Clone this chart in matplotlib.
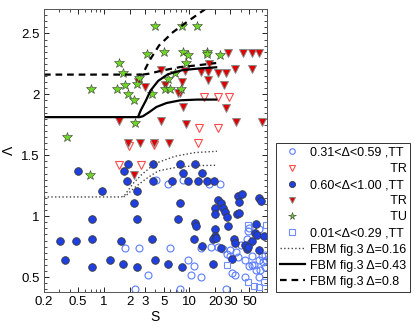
import numpy as np
import matplotlib
matplotlib.use("Agg")
import matplotlib.pyplot as plt
from matplotlib.ticker import FixedLocator, FixedFormatter, LogLocator, NullFormatter, MultipleLocator

plt.rcParams['font.family'] = ['Liberation Sans', 'DejaVu Sans']

# ---- data ----
# open blue circles, 0.31 < Delta < 0.59, TT
S_oc = [4.1, 5.6, 8.3, 17.1, 22.5, 1.75, 2.6, 5.9, 13.5, 17.9, 9.7, 11.3, 3.3, 10.3, 13.5,
        2.3, 7.8, 26.4, 27.5, 29.5, 35, 37.3, 44.6, 46.6, 51, 53.4, 56, 64, 70, 73, 76.6,
        31.1, 34, 44.6, 53.4, 50, 60, 67, 64, 76.6, 79, 21.7, 24.5, 50, 48, 64, 40, 30]
L_oc = [1.30, 1.268, 1.30, 1.268, 1.268, 0.743, 0.743, 0.743, 0.743, 0.749, 0.639, 0.590, 0.516, 0.516, 0.497,
        0.399, 0.399, 0.399, 0.689, 0.67, 0.708, 0.667, 0.639, 0.817, 0.776, 0.672, 0.598, 0.639, 0.672, 0.626, 0.68,
        0.536, 0.516, 0.503, 0.598, 0.59, 0.56, 0.557, 0.503, 0.585, 0.64, 0.749, 0.73, 0.907, 0.88, 0.899, 0.76, 0.72]

# open red triangles, 0.31 < Delta < 0.59, TR
S_ot = [14.8, 21.4, 29, 13.0, 21.7, 12.4, 1.95, 3.9, 1.49, 2.7]
L_ot = [1.981, 1.981, 1.981, 1.722, 1.722, 1.604, 1.577, 1.585, 1.418, 1.418]

# filled blue circles, 0.60 < Delta < 1.00, TT
S_fc = [1.91, 3.75, 7.8, 11.6, 0.50, 1.72, 8.3, 13.9, 1.86, 3.75, 6.3, 9.5, 12.7, 16.2, 19.4,
        0.95, 2.43, 2.26, 7.8, 0.72, 2.43, 7.3, 11.6, 11.8, 0.31, 0.47, 0.73, 1.57, 3.69, 11.2,
        0.355, 0.72, 1.18, 1.66, 2.43, 3.94, 5.6, 8.1, 18.6, 14.1,
        21.7, 23.5, 24.4, 26, 27.2, 19.9, 19.6, 36.6, 40.8, 38.3, 35.7, 38.3, 64, 69,
        28, 19.9, 19.6, 18.9, 20.2, 23.5, 32.8, 34, 31.1, 44.6, 47.5, 60, 58.4, 62, 75,
        53.4, 48.8, 64]
L_fc = [1.432, 1.432, 1.432, 1.432, 1.369, 1.369, 1.355, 1.355, 1.287, 1.287, 1.287, 1.287, 1.287, 1.287, 1.287,
        1.208, 1.208, 1.112, 1.112, 0.973, 0.973, 0.973, 0.945, 0.918, 0.798, 0.798, 0.811, 0.798, 0.811, 0.811,
        0.639, 0.585, 0.639, 0.607, 0.585, 0.639, 0.607, 0.585, 0.607, 0.754,
        1.137, 1.109, 1.071, 1.036, 0.995, 1.071, 1.022, 1.164, 1.18, 1.117, 1.022, 1.027, 1.153, 1.126,
        0.918, 0.893, 0.836, 0.809, 0.82, 0.743, 0.809, 0.781, 0.645, 0.762, 0.727, 0.934, 0.863, 0.844, 0.836,
        0.798, 0.749, 0.721]

# filled red triangles, 0.60 < Delta < 1.00, TR
S_ft = [28.4, 42, 53.4, 65, 17.1, 4.7, 8.8, 13.5, 16.6, 21.7, 27, 34, 53.5, 3.0, 2.5,
        8.07, 16.6, 25, 5.2, 7.7, 7.3, 26.6, 8.4, 4.6, 1.52, 9.0, 35, 70,
        1.91, 2.67, 3.8, 5.7, 2.24]
L_ft = [2.342, 2.342, 2.342, 2.342, 2.246, 2.20, 2.192, 2.183, 2.18, 2.178, 2.178, 2.21, 2.21, 2.063, 2.098,
        2.10, 2.118, 2.074, 2.074, 2.014, 2.008, 1.891, 1.893, 1.782, 1.782, 1.754, 1.773, 1.773,
        1.604, 1.599, 1.599, 1.599, 1.336]

# stars, TU
S_st = [3.97, 8.07, 12.3, 3.2, 5.0, 8.4, 9.7, 16.2, 16.2, 22.5, 1.52, 9.2, 1.67, 6.74, 2.58,
        5.63, 0.71, 1.43, 1.75, 2.46, 1.91, 2.26, 5.14, 6.0, 7.9, 3.66, 2.29, 0.37, 0.69]
L_st = [2.56, 2.56, 2.56, 2.328, 2.347, 2.347, 2.323, 2.35, 2.33, 2.323, 2.254, 2.254, 2.178, 2.178, 2.131,
        2.123, 2.041, 2.041, 2.074, 2.082, 2.0, 1.954, 2.041, 2.041, 2.041, 2.0, 1.768, 1.651, 1.342]

# open squares, 0.01 < Delta < 0.29, TT
S_sq = [48, 79, 27.3, 48, 56, 65, 75]
L_sq = [0.93, 0.93, 0.598, 0.46, 0.43, 0.42, 0.46]

# FBM fig.3 curves (two branches each)
S_d16a = [0.2, 1.6, 1.75, 2.19, 2.79, 3.94, 6.78, 11.6, 20.9]
L_d16a = [1.158, 1.158, 1.172, 1.268, 1.344, 1.432, 1.492, 1.522, 1.533]
S_d16b = [1.7, 1.85, 2.39, 3.14, 4.32, 7.4, 12.7, 20.9]
L_d16b = [1.158, 1.175, 1.246, 1.309, 1.372, 1.404, 1.415, 1.418]

S_d43a = [0.2, 2.5, 2.7, 3.1, 3.5, 4.3, 5.6, 8.2, 12.8, 20.5]
L_d43a = [1.813, 1.813, 1.87, 1.95, 2.03, 2.11, 2.165, 2.198, 2.212, 2.222]
S_d43b = [2.6, 2.85, 3.4, 4.1, 5.4, 7.8, 12.3, 20.5]
L_d43b = [1.813, 1.82, 1.855, 1.896, 1.929, 1.951, 1.957, 1.957]

S_d80a = [0.2, 2.85, 3.1, 3.5, 4.4, 6.4, 9.6, 15.3]
L_d80a = [2.162, 2.162, 2.22, 2.29, 2.40, 2.51, 2.60, 2.70]
S_d80b = [2.85, 3.4, 4.9, 7.8, 12.3, 20.5]
L_d80b = [2.162, 2.17, 2.197, 2.224, 2.238, 2.257]

xticks = [0.2, 0.5, 1, 2, 3, 5, 10, 20, 30, 50]
xtick_labels = ['0.2', '0.5', '1', '2', '3', '5', '10', '20', '30', '50']
yticks = [0.5, 1, 1.5, 2, 2.5]
ytick_labels = ['0.5', '1', '1.5', '2', '2.5']

lab_oc = '0.31<\u0394<0.59 ,TT'
lab_ot = ' ' * 23 + 'TR'
lab_fc = '0.60<\u0394<1.00 ,TT'
lab_ft = ' ' * 23 + 'TR'
lab_st = ' ' * 23 + 'TU'
lab_sq = '0.01<\u0394<0.29 ,TT'
lab_16 = 'FBM fig.3 \u0394=0.16'
lab_43 = 'FBM fig.3 \u0394=0.43'
lab_80 = 'FBM fig.3 \u0394=0.8'

# ---- figure ----
fig = plt.figure(figsize=(4.15, 3.35), dpi=100)
ax = fig.add_axes([0.106, 0.128, 0.537, 0.845])

ms = 5
h_oc, = ax.plot(S_oc, L_oc, 'o', ms=ms, mfc='none', mec='#5a7cff', mew=0.8, label=lab_oc)
h_ot, = ax.plot(S_ot, L_ot, 'v', ms=ms + 0.5, mfc='none', mec='#ff4a4a', mew=0.8, label=lab_ot)
h_fc, = ax.plot(S_fc, L_fc, 'o', ms=ms + 0.5, mfc='#1f3fe0', mec='#3a3a3a', mew=0.6, label=lab_fc)
h_ft, = ax.plot(S_ft, L_ft, 'v', ms=ms + 0.5, mfc='#e00000', mec='#8a8a8a', mew=0.7, label=lab_ft)
h_st, = ax.plot(S_st, L_st, '*', ms=7, mfc='#6fd628', mec='#3a3a3a', mew=0.4, label=lab_st)
h_sq, = ax.plot(S_sq, L_sq, 's', ms=ms, mfc='none', mec='#6f8fff', mew=0.8, label=lab_sq)

h_16, = ax.plot(S_d16a, L_d16a, ':', color='#444444', lw=1.0, label=lab_16)
ax.plot(S_d16b, L_d16b, ':', color='#444444', lw=1.0)
h_43, = ax.plot(S_d43a, L_d43a, '-', color='black', lw=1.6, label=lab_43)
ax.plot(S_d43b, L_d43b, '-', color='black', lw=1.6)
h_80, = ax.plot(S_d80a, L_d80a, '--', color='black', lw=1.6, dashes=(3, 2.2), label=lab_80)
ax.plot(S_d80b, L_d80b, '--', color='black', lw=1.6, dashes=(3, 2.2))

ax.set_xscale('log')
ax.set_xlim(0.2, 80)
ax.set_ylim(0.377, 2.70)

ax.xaxis.set_major_locator(FixedLocator(xticks))
ax.xaxis.set_major_formatter(FixedFormatter(xtick_labels))
ax.xaxis.set_minor_locator(LogLocator(base=10, subs=np.arange(2, 10)))
ax.xaxis.set_minor_formatter(NullFormatter())
ax.yaxis.set_major_locator(FixedLocator(yticks))
ax.yaxis.set_major_formatter(FixedFormatter(ytick_labels))
ax.yaxis.set_minor_locator(MultipleLocator(0.05))

ax.tick_params(which='both', direction='in', top=True, right=True, labelsize=9.5, pad=3)
ax.tick_params(which='major', length=3.5, width=0.6)
ax.tick_params(which='minor', length=2, width=0.5)
for sp in ax.spines.values():
    sp.set_linewidth(0.7)
    sp.set_color('#555555')

ax.set_xlabel('S', fontsize=10, labelpad=1)
ax.set_ylabel('\u039b', fontsize=10, labelpad=4)

handles = [h_oc, h_ot, h_fc, h_ft, h_st, h_sq, h_16, h_43, h_80]
leg = fig.legend(handles=handles, loc='upper left', bbox_to_anchor=(0.665, 0.573),
                 fontsize=9, frameon=True, fancybox=False, edgecolor='black',
                 borderpad=0.3, labelspacing=0.33, handlelength=2.0, handletextpad=0.4,
                 borderaxespad=0, numpoints=1, markerscale=0.8)
leg.get_frame().set_linewidth(0.7)

fig.savefig('out.png', dpi=100)
